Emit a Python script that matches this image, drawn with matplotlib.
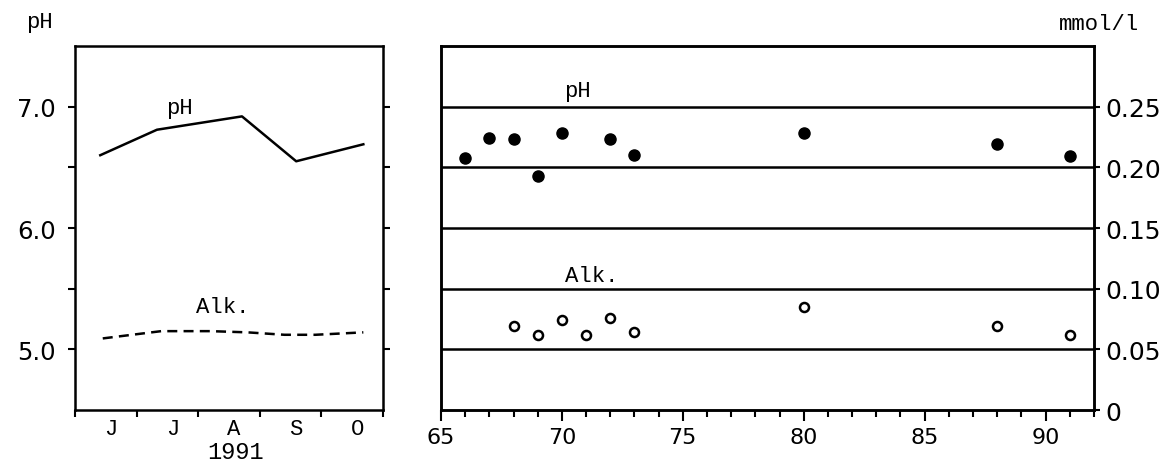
import numpy as np
import matplotlib.pyplot as plt

# left panel: 1991 season (x in months from start of June)
month_labels = ['J', 'J', 'A', 'S', 'O']
ph_month_x = [0.41, 1.33, 2.71, 3.59, 4.68]
ph_month = [6.60, 6.81, 6.92, 6.55, 6.69]
alk_month_x = [0.45, 1.4, 2.2, 2.8, 3.4, 3.9, 4.68]
alk_month = [5.09, 5.15, 5.15, 5.14, 5.12, 5.12, 5.14]

# right panel: long-term record
ph_years = [66, 67, 68, 69, 70, 72, 73, 80, 88, 91]
ph_vals = [6.58, 6.74, 6.73, 6.43, 6.78, 6.73, 6.60, 6.78, 6.69, 6.59]
alk_years = [68, 69, 70, 71, 72, 73, 80, 88, 91]
alk_vals = [0.069, 0.062, 0.074, 0.062, 0.076, 0.064, 0.085, 0.069, 0.062]
mmol_ticks = [0, 0.05, 0.10, 0.15, 0.20, 0.25]
mmol_labels = ['0', '0.05', '0.10', '0.15', '0.20', '0.25']
year_ticks = [65, 70, 75, 80, 85, 90]

mono = 'Liberation Mono'
sans = 'DejaVu Sans'
lw = 1.8

fig = plt.figure(figsize=(11.65, 4.64), dpi=100)
ax1 = fig.add_axes([0.0644, 0.1142, 0.2644, 0.7845])
ax2 = fig.add_axes([0.3785, 0.1142, 0.5605, 0.7845])

# ---- left panel
ax1.plot(ph_month_x, ph_month, color='black', lw=1.8)
ax1.plot(alk_month_x, alk_month, color='black', lw=1.8, ls=(0, (4, 2.5)))
ax1.set_xlim(0, 5)
ax1.set_ylim(4.5, 7.5)
ax1.set_yticks([5.0, 6.0, 7.0])
ax1.set_yticklabels(['5.0', '6.0', '7.0'], fontsize=17.5, family=sans)
ax1.set_yticks([5.5, 6.5], minor=True)
ax1.tick_params(axis='y', which='both', direction='out', length=5, width=1.5,
                left=True, right=True, pad=9)
ax1.set_xticks([0, 1, 2, 3, 4, 5])
ax1.set_xticklabels([])
ax1.set_xticks([0.58, 1.58, 2.58, 3.58, 4.58], minor=True)
ax1.set_xticklabels(month_labels, minor=True, fontsize=16, family=mono)
ax1.tick_params(axis='x', which='major', direction='out', length=5, width=1.5)
ax1.tick_params(axis='x', which='minor', length=0, pad=6)
ax1.text(1.70, 6.95, 'pH', fontsize=16, family=mono, ha='center', va='baseline')
ax1.text(2.40, 5.31, 'Alk.', fontsize=16, family=mono, ha='center', va='baseline')
ax1.text(2.6, -0.113, '1991', transform=ax1.get_xaxis_transform(), fontsize=17,
         family=mono, ha='center', va='center')
fig.text(0.034, 0.952, 'pH', fontsize=16, family=mono, ha='center', va='center')

# ---- right panel
for v in mmol_ticks[1:]:
    ax2.axhline(v, color='black', lw=lw)
ax2.plot(alk_years, alk_vals, 'o', mfc='white', mec='black', ms=6.5, mew=1.8)
ax2.set_xlim(65, 92)
ax2.set_ylim(0, 0.30)

# pH dots share the left pH scale
ax3 = ax2.twinx()
ax3.set_ylim(4.5, 7.5)
ax3.plot(ph_years, ph_vals, 'o', color='black', ms=8)
ax3.set_yticks([])
ax3.set_xlim(65, 92)

ax2.yaxis.tick_right()
ax2.set_yticks(mmol_ticks)
ax2.set_yticklabels(mmol_labels, fontsize=18, family=sans)
ax2.tick_params(axis='y', direction='out', length=4, width=1.5, pad=4,
                left=False, right=True)
ax2.set_xticks(year_ticks)
ax2.set_xticklabels([str(y) for y in year_ticks], fontsize=16, family=sans)
ax2.set_xticks(np.arange(65, 93), minor=True)
ax2.tick_params(axis='x', which='major', direction='out', length=8, width=1.5, pad=4)
ax2.tick_params(axis='x', which='minor', direction='out', length=5, width=1.5)
ax2.text(70.66, 0.259, 'pH', fontsize=16, family=mono, ha='center', va='baseline')
ax2.text(71.24, 0.1067, 'Alk.', fontsize=16, family=mono, ha='center', va='baseline')
fig.text(0.943, 0.948, 'mmol/l', fontsize=16, family=mono, ha='center', va='center')

for ax in (ax1, ax2, ax3):
    for s in ax.spines.values():
        s.set_linewidth(lw)

fig.savefig('out.png', dpi=100, facecolor='white')
